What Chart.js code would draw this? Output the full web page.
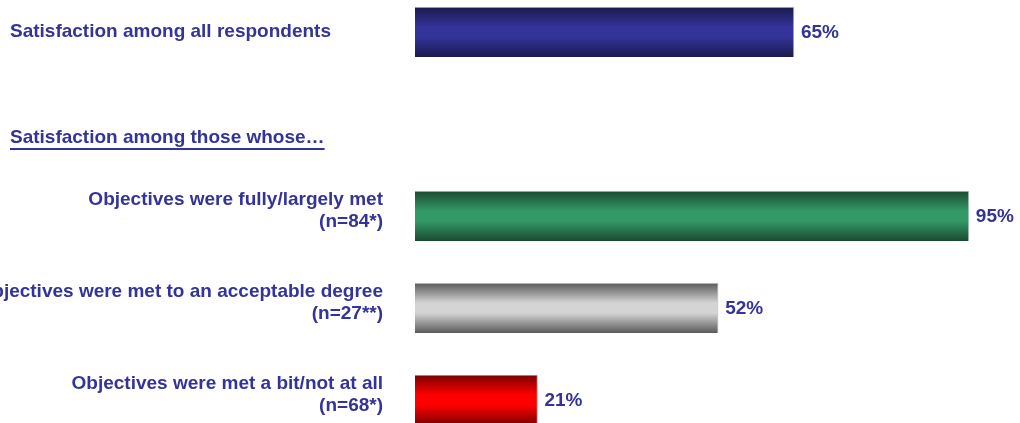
<!DOCTYPE html>
<html>
<head>
<meta charset="utf-8">
<script src="https://cdn.jsdelivr.net/npm/chart.js@4/dist/chart.umd.min.js"></script>
<style>
  html, body { margin: 0; padding: 0; background: #fff; overflow: hidden; }
  body { width: 1020px; height: 423px; position: relative; }
  #wrap { position: absolute; left: 0; top: -14px; width: 1020px; height: 460px; }
</style>
</head>
<body>
<div id="wrap"><canvas id="satChart"></canvas></div>
<script>
// ---------------------------------------------------------------------------
// Data
// ---------------------------------------------------------------------------
const categories = [
  "Satisfaction among all respondents",
  "",
  "Objectives were fully/largely met",
  "Objectives were met to an acceptable degree",
  "Objectives were met a bit/not at all",
];
const sampleSizes = ["", "", "(n=84*)", "(n=27**)", "(n=68*)"];
const satisfaction = [65, null, 95, 52, 21];
const sectionHeading = "Satisfaction among those whose\u2026";

// edge / centre shades for each bar, plus the thin highlight edge
const BAR_SHADES = [
  { edge: "#1a1a4e", mid: "#333399", rim: "#c4c4d8" },
  { edge: "#1a1a4e", mid: "#333399", rim: "#c4c4d8" },
  { edge: "#1b4a31", mid: "#339966", rim: "#b8cabd" },
  { edge: "#5a5a5a", mid: "#d4d4d4", rim: "#d0d0d0" },
  { edge: "#7a0000", mid: "#ff0000", rim: "#caa0a0" },
];

const INK = "#333399";
const FONT = "bold 19px 'Liberation Sans', Arial, sans-serif";

// vertical "cylinder" gradient per bar
function barGradient(ctx) {
  const chart = ctx.chart;
  const yScale = chart.scales.y;
  const shade = BAR_SHADES[ctx.dataIndex] || BAR_SHADES[0];
  if (!yScale || !chart.chartArea) return shade.mid;
  const yc = yScale.getPixelForValue(ctx.dataIndex);
  const g = chart.ctx.createLinearGradient(0, yc - 25, 0, yc + 25);
  g.addColorStop(0, shade.edge);
  g.addColorStop(0.4, shade.mid);
  g.addColorStop(0.6, shade.mid);
  g.addColorStop(1, shade.edge);
  return g;
}

// ---------------------------------------------------------------------------
// Text: category labels, section heading, value labels
// ---------------------------------------------------------------------------
const labelPlugin = {
  id: "labels",
  afterDatasetsDraw(chart) {
    const { ctx, scales: { x, y } } = chart;
    ctx.save();
    ctx.font = FONT;
    ctx.fillStyle = INK;
    ctx.textBaseline = "middle";

    categories.forEach((cat, i) => {
      const yc = y.getPixelForValue(i);
      if (i === 0) {
        ctx.textAlign = "left";
        ctx.fillText(cat, 10, yc);
      } else if (cat) {
        ctx.textAlign = "right";
        ctx.fillText(cat, 383, yc - 16);
        ctx.fillText(sampleSizes[i], 383, yc + 6);
      }
      const v = satisfaction[i];
      if (v != null) {
        ctx.textAlign = "left";
        ctx.fillText(v + "%", x.getPixelForValue(v) + 7, yc + 1);
      }
    });

    // section heading, underlined
    const hy = 152;
    ctx.textAlign = "left";
    ctx.fillText(sectionHeading, 10, hy);
    const w = ctx.measureText(sectionHeading).width;
    ctx.fillRect(10, hy + 10, w, 2);
    ctx.restore();
  }
};

new Chart(document.getElementById("satChart"), {
  type: "bar",
  data: {
    labels: categories,
    datasets: [{
      data: satisfaction,
      backgroundColor: barGradient,
      borderColor: BAR_SHADES.map(s => s.rim),
      borderWidth: { top: 1, right: 1, bottom: 0, left: 0 },
      borderSkipped: false,
      barThickness: 50,
    }]
  },
  options: {
    indexAxis: "y",
    responsive: true,
    maintainAspectRatio: false,
    animation: false,
    layout: { padding: { left: 415, right: 22, top: 0, bottom: 0 } },
    plugins: { legend: { display: false }, tooltip: { enabled: false } },
    scales: {
      x: { display: false, min: 0, max: 100 },
      y: { display: false, grid: { display: false } },
    }
  },
  plugins: [labelPlugin]
});
</script>
</body>
</html>
